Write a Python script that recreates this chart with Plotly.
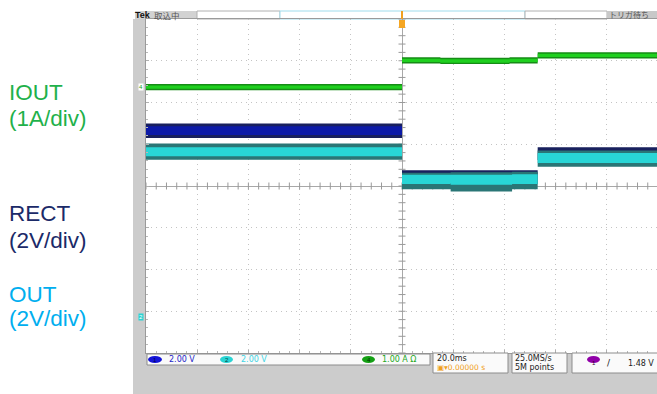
import plotly.graph_objects as go
import numpy as np

W, H = 657, 394

# ---------------- data (time in ms, amplitude in divisions) ----------------
# IOUT (green) – level per sub-segment
iout_t0 = [-100, 0, 15, 42, 53]
iout_t1 = [0, 15, 42, 53, 100]
iout_lvl = [2.37, 3.01, 2.995, 3.01, 3.13]

# RECT (blue) envelope per segment
rect_t0 = [-100, 0, 53]
rect_t1 = [0, 53, 100]
rect_lo = [1.15, 0.05, 0.62]
rect_hi = [1.50, 0.38, 0.93]
rect_core_lo = [1.22]
rect_core_hi = [1.43]

# OUT (cyan) envelope per sub-segment
out_t0 = [-100, 0, 19, 43, 53]
out_t1 = [0, 19, 43, 53, 100]
out_lo = [0.63, -0.08, -0.13, -0.08, 0.46]
out_hi = [1.02, 0.32, 0.33, 0.34, 0.85]
out_core_lo = [0.71, 0.05, 0.03, 0.05, 0.55]
out_core_hi = [0.93, 0.27, 0.27, 0.28, 0.79]

labels = [("IOUT", "(1A/div)"), ("RECT", "(2V/div)"), ("OUT", "(2V/div)")]

# ---------------- figure ----------------
fig = go.Figure()

# center cross ticks (drawn first so traces cover them)
xt = np.arange(-100, 100.01, 4)
fig.add_trace(go.Scatter(x=xt, y=[0] * len(xt), mode="markers",
                         marker=dict(symbol="line-ns", size=5, line=dict(width=1, color="#9a9a9a")),
                         hoverinfo="skip", showlegend=False))
yt = np.arange(-4, 4.01, 0.2)
fig.add_trace(go.Scatter(x=[0] * len(yt), y=yt, mode="markers",
                         marker=dict(symbol="line-ew", size=5, line=dict(width=1, color="#9a9a9a")),
                         hoverinfo="skip", showlegend=False))

def band(t0, t1, lo, hi, color):
    xs, ys = [], []
    for a, b, l, h in zip(t0, t1, lo, hi):
        xs += [a, b, b, a, a, None]
        ys += [l, l, h, h, l, None]
    fig.add_trace(go.Scatter(x=xs, y=ys, mode="lines", fill="toself",
                             fillcolor=color, line=dict(width=0, color=color),
                             hoverinfo="skip", showlegend=False))

# RECT
band(rect_t0, rect_t1, rect_lo, rect_hi, "#18205e")
band(rect_t0[:1], rect_t1[:1], rect_core_lo, rect_core_hi, "#0c1aa8")
# OUT
band(out_t0, out_t1, out_lo, out_hi, "#2a7676")
band(out_t0, out_t1, out_core_lo, out_core_hi, "#28d6d6")
# IOUT
g_lo = [v - 0.075 for v in iout_lvl]
g_hi = [v + 0.075 for v in iout_lvl]
band(iout_t0, iout_t1, g_lo, g_hi, "#168c16")
g_lo2 = [v - 0.04 for v in iout_lvl]
g_hi2 = [v + 0.04 for v in iout_lvl]
band(iout_t0, iout_t1, g_lo2, g_hi2, "#1fd01f")

x0p = 146 / W
fig.update_xaxes(domain=[x0p, 1], range=[-100, 100 * (657 - 402) / 256],
                 dtick=20, tick0=0, showticklabels=False,
                 showgrid=True, gridcolor="#c4c4c4", griddash="1px,4px", gridwidth=1,
                 zeroline=True, zerolinecolor="#a8a8a8", zerolinewidth=1,
                 showline=True, linecolor="#9a9a9a", linewidth=1, mirror=True,
                 ticks="inside", ticklen=3, tickcolor="#b0b0b0",
                 minor=dict(ticks="inside", dtick=4, ticklen=2, tickcolor="#b8b8b8", showgrid=False),
                 fixedrange=True)
fig.update_yaxes(domain=[(H - 353) / H, (H - 19) / H], range=[-4, 4],
                 dtick=1, tick0=0, showticklabels=False,
                 showgrid=True, gridcolor="#c4c4c4", griddash="1px,4px", gridwidth=1,
                 zeroline=True, zerolinecolor="#a8a8a8", zerolinewidth=1,
                 showline=True, linecolor="#9a9a9a", linewidth=1, mirror=True,
                 ticks="inside", ticklen=3, tickcolor="#b0b0b0",
                 minor=dict(ticks="inside", dtick=0.2, ticklen=2, tickcolor="#b8b8b8", showgrid=False),
                 fixedrange=True)

def px(x):
    return x / W

def py(y):
    return 1 - y / H

shapes = []
def rect(x0, y0, x1, y1, fill, line=None, lw=1, layer="below"):
    shapes.append(dict(type="rect", xref="paper", yref="paper",
                       x0=px(x0), x1=px(x1), y0=py(y1), y1=py(y0),
                       fillcolor=fill, line=dict(color=line or fill, width=lw if line else 0),
                       layer=layer))

GRAY = "#cccccc"
# scope frame (gray)
rect(133, 19, 146, 394, GRAY)
rect(133, 353, 657, 394, GRAY)
# top status bar
rect(135, 11, 197, 19, "#d2d2d2")
rect(197, 11, 280, 19, "#ffffff", "#b0b0b0")
rect(280, 11, 525, 19, "#ffffff", "#9fdcec")
rect(525, 11, 607, 19, "#ffffff", "#b0b0b0")
rect(607, 11, 657, 19, "#c8c8c8")
# bottom boxes
rect(147, 354, 430, 365, "#fafafa", "#8c8c8c", 1, "above")
rect(433, 353, 508, 373, "#fafafa", "#8c8c8c", 1, "above")
rect(512, 353, 567, 373, "#fafafa", "#8c8c8c", 1, "above")
rect(572, 353, 660, 373, "#fafafa", "#8c8c8c", 1, "above")

def ell(x0, y0, x1, y1, color):
    shapes.append(dict(type="circle", xref="paper", yref="paper",
                       x0=px(x0), x1=px(x1), y0=py(y1), y1=py(y0),
                       fillcolor=color, line=dict(width=0), layer="above"))

ell(148, 356, 162, 363, "#1414d8")
ell(220, 356, 233, 363, "#2ad4d4")
ell(362, 356, 375, 363, "#14a014")
ell(587, 356, 600, 363, "#9000a8")

# trigger marker
shapes.append(dict(type="line", xref="paper", yref="paper", x0=px(402), x1=px(402),
                   y0=py(19), y1=py(11), line=dict(color="#f0a020", width=2), layer="above"))
rect(399, 20, 405, 28, "#f5a623", None, 0, "above")

fig.update_layout(shapes=shapes)

ann = []
def txt(x, y, s, size, color, family="Liberation Sans, Arial, sans-serif", anchor="left", bold=False, bg=None):
    ann.append(dict(x=px(x), y=py(y), xref="paper", yref="paper", text=("<b>%s</b>" % s) if bold else s,
                    showarrow=False, xanchor=anchor, yanchor="middle",
                    font=dict(size=size, color=color, family=family),
                    bgcolor=bg, borderpad=0))

# left labels
txt(8, 92, labels[0][0], 22.5, "#1fb14b")
txt(8, 119, labels[0][1], 22.5, "#1fb14b")
txt(8, 213, labels[1][0], 22.5, "#1b2a68")
txt(8, 240, labels[1][1], 22.5, "#1b2a68")
txt(8, 294, labels[2][0], 22.5, "#00aeef")
txt(8, 318, labels[2][1], 22.5, "#00aeef")

# status bar texts
txt(134, 14.5, "Tek", 9, "#111111", bold=True)
txt(153, 14.5, "取込中", 8.5, "#555555", family="Noto Sans CJK JP")
txt(608, 14.5, "トリガ待ち", 8, "#555555", family="Noto Sans CJK JP")

# bottom readouts
txt(155, 359.5, "1", 6, "#000050", anchor="center")
txt(226.5, 359.5, "2", 6, "#004040", anchor="center")
txt(368.5, 359.5, "4", 6, "#003000", anchor="center")
txt(593.5, 363, "1", 6, "#300030", anchor="center")
txt(168, 359.5, "2.00 V", 8, "#2424c8", family="DejaVu Sans")
txt(240, 359.5, "2.00 V", 8, "#40d4e4", family="DejaVu Sans")
txt(381, 359.5, "1.00 A Ω", 8, "#22a822", family="DejaVu Sans")
txt(436, 358.5, "20.0ms", 8, "#222222", family="DejaVu Sans")
txt(436, 367.5, "▣▾0.00000 s", 7.5, "#f0a020", family="DejaVu Sans")
txt(514, 358.5, "25.0MS/s", 8, "#222222", family="DejaVu Sans")
txt(514, 367.5, "5M points", 8, "#222222", family="DejaVu Sans")
txt(606, 363, "/", 9, "#222222", family="DejaVu Sans")
txt(627, 363, "1.48 V", 8, "#222222", family="DejaVu Sans")

# channel markers on left edge
txt(141, 87, "4", 6, "#14a014", anchor="center", bg="#ffffff")
txt(141, 317, "2", 6, "#ffffff", anchor="center", bg="#2ad4d4")

fig.update_layout(annotations=ann, width=W, height=H,
                  margin=dict(l=0, r=0, t=0, b=0),
                  paper_bgcolor="#ffffff", plot_bgcolor="#ffffff",
                  showlegend=False)

fig.write_html("out.html", config={"displayModeBar": False, "staticPlot": True},
               post_script="document.body.style.margin='0';document.body.style.overflow='hidden';")
